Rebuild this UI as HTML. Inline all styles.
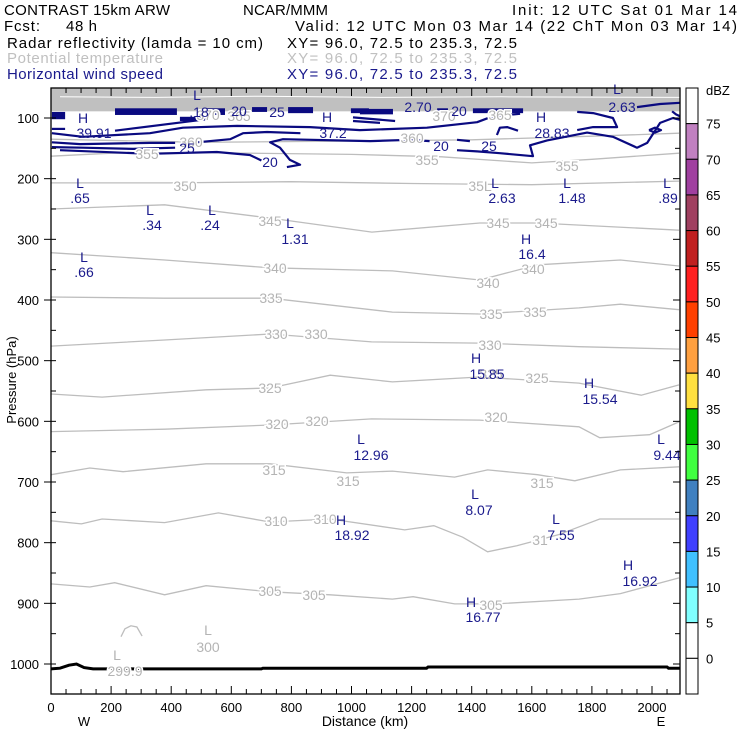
<!DOCTYPE html>
<html><head><meta charset="utf-8">
<style>
html,body{margin:0;padding:0;background:#fff;}
svg{display:block;font-family:"Liberation Sans",sans-serif;}
.g{fill:#b4b4b4;font-size:14px;paint-order:stroke;stroke:#fff;stroke-width:3px;}
.n{fill:#1a1a8c;font-size:14px;}
</style></head>
<body>
<svg id="chart" width="740" height="740" viewBox="0 0 740 740">
  <g font-size="15">
    <text x="4" y="15" textLength="166">CONTRAST 15km ARW</text>
    <text x="243" y="15" textLength="85">NCAR/MMM</text>
    <text x="512" y="15" textLength="225">Init: 12 UTC Sat 01 Mar 14</text>
    <text x="4" y="31" textLength="36">Fcst:</text>
    <text x="66" y="31" textLength="31">48 h</text>
    <text x="295" y="31" textLength="442">Valid: 12 UTC Mon 03 Mar 14 (22 ChT Mon 03 Mar 14)</text>
    <text x="7" y="48" textLength="256">Radar reflectivity (lamda = 10 cm)</text>
    <text x="287" y="48" textLength="230">XY=  96.0, 72.5 to 235.3, 72.5</text>
    <text x="7" y="63" textLength="156" fill="#c0c0c0">Potential temperature</text>
    <text x="287" y="63" textLength="230" fill="#c0c0c0">XY=  96.0, 72.5 to 235.3, 72.5</text>
    <text x="7" y="79" textLength="156" fill="#1a1a8c">Horizontal wind speed</text>
    <text x="287" y="79" textLength="230" fill="#1a1a8c">XY=  96.0, 72.5 to 235.3, 72.5</text>
  </g>
  <defs><clipPath id="pc"><rect x="51" y="88" width="629" height="606"/></clipPath></defs>
  <g id="plot" clip-path="url(#pc)"></g>
  <g id="labels"></g>
  <g id="axes"></g>
  <g id="cbar"></g>
</svg>
<script>
// ---------- data ----------
const xTicks = [0,200,400,600,800,1000,1200,1400,1600,1800,2000];
const yTicks = [100,200,300,400,500,600,700,800,900,1000];
const thetaLevels = [300,305,310,315,320,325,330,335,340,345,350,355,360];
const th300 = [[233,955],[246,942],[266,937],[286,939],[303,954]];
const th305 = [[0,868],[129,873],[212,866],[378,886],[516,871],[729,881],[929,886],[1136,893],[1205,889],[1343,901],[1481,901],[1757,893],[1895,884],[2090,858]];
const th310 = [[0,764],[101,769],[170,761],[378,767],[557,751],[729,766],[929,761],[1177,779],[1274,772],[1370,791],[1453,815],[1550,805],[1688,787],[1826,761],[1964,761],[2090,761]];
const th315 = [[0,688],[129,677],[240,683],[516,670],[729,670],[984,685],[1136,682],[1343,692],[1453,680],[1619,688],[1743,698],[1895,680],[2090,675]];
const th320 = [[0,617],[378,613],[729,606],[1067,596],[1426,598],[1757,609],[1826,627],[1992,622],[2090,601]];
const th325 = [[0,555],[170,560],[516,548],[729,545],[929,524],[1136,535],[1426,527],[1757,537],[1964,557],[2090,540]];
const th330 = [[0,476],[378,466],[730,456],[1067,469],[1427,471],[1757,477],[2090,481]];
const th335 = [[0,395],[378,397],[730,397],[1136,420],[1427,423],[1757,413],[1895,407],[2090,416]];
const th340 = [[0,322],[378,334],[730,347],[1136,352],[1427,367],[1620,342],[1895,334],[2090,344]];
const th345 = [[0,250],[378,243],[730,265],[1068,288],[1427,273],[1620,273],[2090,285]];
const th350 = [[0,207],[400,207],[800,205],[1200,208],[1600,210],[2090,204]];
const th355 = [[0,163],[200,158],[500,157],[1000,160],[1300,164],[1600,174],[1800,168],[2090,158]];
const th360 = [[0,135],[500,140],[1000,138],[1400,136],[1800,130],[2090,125]];
const thetaLines = [th300,th305,th310,th315,th320,th325,th330,th335,th340,th345,th350,th355,th360];
const stratoBand = [45,89]; // hPa range of dense theta contours
const wind1 = [[3,118],[47,118]];
const wind1b = [[213,121],[439,107],[519,102]];
const wind2 = [[3,125],[106,131],[329,125],[439,116],[619,113],[862,115],[1028,120],[1251,116],[1418,107],[1471,97],[1561,93]];
const wind3 = [[3,140],[97,143],[329,141],[413,141]];
const wind3b = [[486,140],[596,135],[639,125],[719,123],[830,125]];
const wind4 = [[3,148],[106,149],[273,151],[413,149]];
const wind5 = [[30,153],[329,159],[552,156],[662,161],[700,170]];
const wind5b = [[785,181],[829,177],[795,169],[762,149],[729,140],[772,135],[1062,138],[1195,136],[1260,138]];
const wind5c = [[1351,136],[1394,138]];
const wind5d = [[1484,128],[1494,116],[1518,115],[1554,121]];
const wind6 = [[1351,153],[1418,155],[1494,158],[1604,163],[1594,145],[1651,137],[1784,124],[1870,131],[1950,149],[1984,141],[2027,108],[2070,100],[2093,103]];
const wind7 = [[1751,120],[1804,115],[1884,115],[1870,100],[1804,92],[1751,90]];
const wind8 = [[1990,120],[2010,116],[2030,120],[2010,124],[1990,120]];
const wind9 = [[1950,82],[2027,77],[2093,75]];
const wind10 = [[2067,89],[2080,94],[2093,97]];
const wind11 = [[1005,99],[1145,105]];
const wind12 = [[1005,105],[1095,108]];
const windLines = [wind1,wind1b,wind2,wind3,wind3b,wind4,wind5,wind5b,wind5c,wind5d,wind6,wind7,wind8,wind9,wind10,wind11,wind12];
const windBars = [[3,47,90,102],[213,419,84,95],[519,579,84,95],[669,719,82,90],[789,872,82,92],[998,1058,84,92],[1028,1138,85,94],[1285,1321,84,92],[1404,1571,84,92],[429,503,98,105]];
const terrain = [[0,1008],[30,1007],[60,1002],[85,1000],[110,1006],[140,1008],[700,1008],[705,1007],[1250,1007],[1255,1005],[2050,1005],[2055,1007],[2093,1007]];
const cbLevels = ["75","70","65","60","55","50","45","40","35","30","25","20","15","10","5","0"];
const cbColors = ["#ffffff","#c080c0","#a040a0","#a04060","#c02020","#ff2020","#ff4000","#ffa040","#ffe040","#00c000","#40ff40","#4080c0","#4040ff","#40c0ff","#80ffff","#ffffff","#ffffff"];

// ---------- axes ----------
const X0=51, X1=680, KM1=2093;
function xs(km){return X0 + km*(652-51)/2000;}
function ys(p){return 118 + (p-100)*(664-118)/900;}
const NS="http://www.w3.org/2000/svg";
function mk(tag,attrs,parent){const e=document.createElementNS(NS,tag);for(const k in attrs)e.setAttribute(k,attrs[k]);parent.appendChild(e);return e;}
function pathD(pts){return pts.map((q,i)=>(i?'L':'M')+xs(q[0]).toFixed(1)+','+ys(q[1]).toFixed(1)).join('');}
const plot=document.getElementById('plot');

const band=mk('rect',{x:X0,y:ys(stratoBand[0]),width:X1-X0,height:ys(stratoBand[1])-ys(stratoBand[0]),fill:'#c0c0c0'},plot);


const bl=mk('path',{d:pathD([[30,65],[350,66],[700,64],[1100,66],[1500,65],[2093,66]]),stroke:'#fff','stroke-width':1,fill:'none'},plot);



thetaLines.forEach((pts,i)=>{
  const e=mk('path',{d:pathD(pts),stroke:'#bdbdbd','stroke-width':1.3,fill:'none'},plot);
  
  
});
windBars.forEach(b=>{
  const e=mk('rect',{x:xs(b[0]),y:ys(b[2]),width:xs(b[1])-xs(b[0]),height:ys(b[3])-ys(b[2]),fill:'#0a0a80'},plot);
  
  
});
windLines.forEach(pts=>{
  const e=mk('path',{d:pathD(pts),stroke:'#0a0a80','stroke-width':2.2,fill:'none','stroke-linejoin':'round'},plot);
  
  
});
const ter=mk('path',{d:pathD(terrain),stroke:'#000','stroke-width':3,fill:'none'},plot);



const labs=document.getElementById('labels');
const gray=[["350",185,191],["35L",480,191],["345",270,226],["345",498,228],["345",546,228],["340",275,273],["340",488,288],["340",533,274],["335",271,303],["335",491,319],["335",535,317],["330",276,339],["330",316,339],["330",490,350],["325",270,393],["325",491,379],["325",537,383],["320",277,429],["320",317,426],["320",496,422],["315",274,475],["315",348,486],["315",542,488],["310",276,526],["310",325,524],["31",540,545],["305",270,596],["305",314,600],["305",491,610],["L",208,635],["300",208,652],["L",117,660],["299.9",125,676],["355",147,159],["355",427,165],["355",567,171],["360",191,147],["360",412,143],["365",239,121],["370",208,120],["370",444,121],["365",500,120]];
gray.forEach(l=>{const t=mk('text',{x:l[1],y:l[2],'text-anchor':'middle',class:'g'},labs);t.textContent=l[0];
 
 });
const navy=[["H",83,123],["39.91",94,138],["L",197,100],[".18",199,117],["20",239,116],["25",277,117],["H",327,122],["37.2",333,138],["2.70",418,112],["20",459,116],["H",541,122],["28.83",552,138],["L",617,94],["2.63",622,112],["25",187,153],["20",441,151],["25",489,151],["20",270,167],
["L",80,188],[".65",80,203],["L",150,215],[".34",152,230],["L",212,215],[".24",210,230],["L",290,228],["1.31",295,244],["L",84,262],[".66",84,277],["L",495,188],["2.63",502,203],["L",567,188],["1.48",572,203],["L",667,188],[".89",668,203],["H",526,244],["16.4",532,259],["H",476,363],["15.85",487,379],["H",589,388],["15.54",600,404],["L",361,444],["12.96",371,460],["L",661,444],["9.44",667,460],["L",475,499],["8.07",479,515],["H",341,525],["18.92",352,540],["L",556,524],["7.55",561,540],["H",628,570],["16.92",640,586],["H",471,607],["16.77",483,622]];
navy.forEach(l=>{const t=mk('text',{x:l[1],y:l[2],'text-anchor':'middle',class:'n'},labs);t.textContent=l[0];
 
 });
mk('rect',{x:680.5,y:180,width:5,height:290,fill:'#fff'},labs);

const ax=document.getElementById('axes');
const fr=mk('rect',{x:X0,y:88,width:X1-X0,height:606,fill:'none',stroke:'#000','stroke-width':1.3},ax);


for(let km=0;km<=2050;km+=50){
  const L=(km%200===0)?8:5, x=xs(km);
  mk('line',{x1:x,y1:694,x2:x,y2:694-L,stroke:'#000'},ax);
  mk('line',{x1:x,y1:88,x2:x,y2:88+L,stroke:'#000'},ax);
}
xTicks.forEach(v=>{const t=mk('text',{x:xs(v),y:712,'text-anchor':'middle','font-size':13},ax);t.textContent=v;
 
 });
for(let p=100;p<=1000;p+=50){
  const y=ys(p), L=(p%100===0)?7:5;
  mk('line',{x1:X0-(p%100===0?7:0),y1:y,x2:X0+5,y2:y,stroke:'#000'},ax);
  mk('line',{x1:X1,y1:y,x2:X1-L,y2:y,stroke:'#000'},ax);
}
yTicks.forEach(v=>{const t=mk('text',{x:39,y:ys(v)+5,'text-anchor':'end','font-size':13},ax);t.textContent=v;
 
 });
let t=mk('text',{x:365,y:726,'text-anchor':'middle','font-size':14},ax);t.textContent='Distance (km)';


t=mk('text',{x:84,y:726,'text-anchor':'middle','font-size':13},ax);t.textContent='W';


t=mk('text',{x:661,y:726,'text-anchor':'middle','font-size':13},ax);t.textContent='E';


t=mk('text',{x:0,y:0,'text-anchor':'middle','font-size':13,transform:'translate(16,380) rotate(-90)'},ax);t.textContent='Pressure (hPa)';



const cb=document.getElementById('cbar');
const cbTop=88, cbH=606/17;
cbColors.forEach((c,i)=>{const r=mk('rect',{x:686,y:cbTop+i*cbH,width:12,height:cbH,fill:c,stroke:'#000','stroke-width':1},cb);
 
 });
cbLevels.forEach((s,i)=>{const tt=mk('text',{x:706,y:cbTop+(i+1)*cbH+5,'font-size':13},cb);tt.textContent=s;
 
 });
t=mk('text',{x:706,y:95,'font-size':13},cb);t.textContent='dBZ';


</script>
</body></html>
